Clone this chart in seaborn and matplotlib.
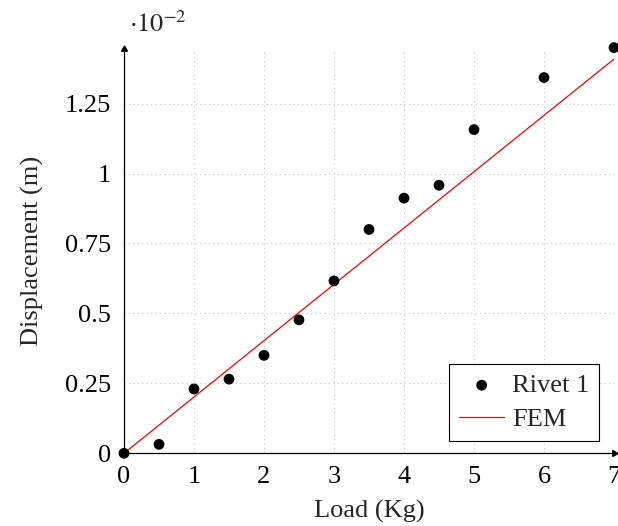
import numpy as np
import pandas as pd
import seaborn as sns
import matplotlib.pyplot as plt
from matplotlib.ticker import FuncFormatter

# measured displacement for rivet 1 (m)
load_kg = [0, 0.5, 1, 1.5, 2, 2.5, 3, 3.5, 4, 4.5, 5, 6, 7]
rivet1_m = [0.0, 0.00032, 0.0023, 0.00265, 0.0035, 0.00477, 0.00616,
            0.0080, 0.00912, 0.00958, 0.01157, 0.01343, 0.0145]

# FEM prediction (m)
fem_load = [0, 7]
fem_m = [0.0, 0.01409]

x_ticks = [0, 1, 2, 3, 4, 5, 6, 7]
y_ticks = [0, 0.0025, 0.005, 0.0075, 0.01, 0.0125]

sns.set_theme(style="white")
plt.rcParams['font.family'] = ['Liberation Serif', 'DejaVu Serif']
plt.rcParams['mathtext.fontset'] = 'stix'

FS = 19

rivet = pd.DataFrame({'load': load_kg, 'disp': rivet1_m})
fem = pd.DataFrame({'load': fem_load, 'disp': fem_m})

fig = plt.figure(figsize=(6.18, 5.26), dpi=100)
ax = fig.add_axes([124 / 618, (526 - 453.3) / 526, 490 / 618, (453.3 - 49) / 526])

sns.scatterplot(data=rivet, x='load', y='disp', ax=ax, color='black', s=60,
                edgecolor='none', label='Rivet 1', zorder=3, clip_on=False)
sns.lineplot(data=fem, x='load', y='disp', ax=ax, color='red', lw=0.9,
             label='FEM', zorder=2)

ax.set_xlim(0, 7)
ax.set_ylim(0, 0.01445)
ax.set_xticks(x_ticks)
ax.set_yticks(y_ticks)
ax.yaxis.set_major_formatter(FuncFormatter(lambda v, p: '{:g}'.format(round(v * 100, 4))))

ax.grid(True, color='#c4c4c4', linestyle=(0, (1, 3)), linewidth=0.8)
for side in ['top', 'right']:
    ax.spines[side].set_visible(False)
for side in ['left', 'bottom']:
    ax.spines[side].set_color('black')
    ax.spines[side].set_linewidth(0.9)

ax.tick_params(axis='both', direction='inout', length=5, width=0.6,
               colors='black', labelsize=FS, pad=7)

# arrow heads on the axis lines
ax.plot(1, 0, marker=(3, 0, -90), color='black', ms=5,
        transform=ax.transAxes, clip_on=False)
ax.plot(0, 1, marker=(3, 0, 0), color='black', ms=5,
        transform=ax.transAxes, clip_on=False)

ax.text(0.01, 1.03, r'$\cdot 10^{-2}$', transform=ax.transAxes,
        fontsize=FS, ha='left', va='bottom')

ax.set_xlabel('Load (Kg)', fontsize=FS, labelpad=8)
ax.set_ylabel('Displacement (m)', fontsize=FS, labelpad=15)

leg = ax.legend(loc='lower right', bbox_to_anchor=(0.97, 0.03), fontsize=FS,
                frameon=True, fancybox=False, edgecolor='black', framealpha=1,
                handlelength=1.7, borderpad=0.38, labelspacing=0.4,
                handletextpad=0.3, borderaxespad=0)
leg.get_frame().set_linewidth(0.8)

fig.savefig('out.png', dpi=100)
